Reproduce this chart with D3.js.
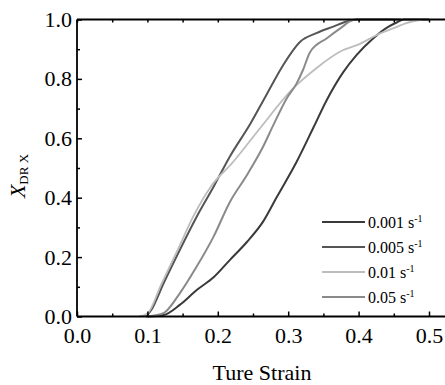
<!DOCTYPE html>
<html>
<head>
<meta charset="utf-8">
<script src="https://cdn.jsdelivr.net/npm/d3@7"></script>
<style>
  body { margin: 0; background: #fff; }
</style>
</head>
<body>
<div id="graph"></div>
<script>
// series: [strain, X_DRX]
const rate001 = [[0.1,0],[0.123,0.005],[0.146,0.039],[0.17,0.089],[0.194,0.132],[0.217,0.19],[0.241,0.25],[0.265,0.322],[0.284,0.403],[0.312,0.521],[0.336,0.637],[0.355,0.73],[0.378,0.822],[0.397,0.88],[0.421,0.937],[0.442,0.975],[0.454,0.99],[0.464,1.0],[0.5,1.0]];
const rate005 = [[0.098,0],[0.105,0.02],[0.123,0.112],[0.146,0.224],[0.17,0.336],[0.194,0.437],[0.217,0.538],[0.246,0.648],[0.269,0.746],[0.293,0.847],[0.317,0.925],[0.34,0.954],[0.364,0.976],[0.383,0.993],[0.397,1.0],[0.46,1.0]];
const rate01 = [[0.088,0],[0.1,0.01],[0.12,0.11],[0.143,0.224],[0.165,0.336],[0.19,0.437],[0.222,0.521],[0.26,0.634],[0.307,0.768],[0.34,0.836],[0.374,0.892],[0.402,0.918],[0.426,0.948],[0.449,0.97],[0.468,0.988],[0.49,1.0]];
const rate05 = [[0.098,0],[0.11,0.003],[0.123,0.011],[0.146,0.078],[0.17,0.168],[0.194,0.269],[0.217,0.385],[0.241,0.475],[0.265,0.575],[0.279,0.645],[0.298,0.735],[0.312,0.785],[0.321,0.83],[0.331,0.89],[0.355,0.937],[0.374,0.97],[0.392,0.998],[0.402,1.0],[0.45,1.0]];

const labels = ['0.001','0.005','0.01','0.05'];
const xTicks = [0,0.1,0.2,0.3,0.4,0.5];
const yTicks = [0,0.2,0.4,0.6,0.8,1.0];

const series = [
  {name: labels[0], data: rate001, color: '#3a3a3a', width: 2},
  {name: labels[1], data: rate005, color: '#555555', width: 2},
  {name: labels[2], data: rate01, color: '#bdbdbd', width: 1.8},
  {name: labels[3], data: rate05, color: '#8a8a8a', width: 2}
];

const w = 445, h = 385;
const padLeft = 77, padTop = 19.5, padBottom = 316.5;
const serifFont = 'Liberation Serif';
const xScale = d3.scaleLinear().domain([0,0.5]).range([padLeft,429]);
const yScale = d3.scaleLinear().domain([0,1]).range([padBottom,padTop]);

const svg = d3.select('#graph').append('svg')
  .attr('width',w).attr('height',h);

const line = d3.line().x(d=>xScale(d[0])).y(d=>yScale(d[1])).curve(d3.curveMonotoneX);

svg.selectAll('.curve')
  .data(series)
  .enter()
  .append('path')
  .attr('class','curve')
  .attr('d',d=>line(d.data))
  .attr('fill','none')
  .attr('stroke',d=>d.color)
  .attr('stroke-width',d=>d.width)
  .attr('stroke-linejoin','round');

// axes, ticks inward
const xMinor = d3.range(0.05,0.55,0.1);
const xAxis = d3.axisBottom(xScale).tickValues(xTicks).tickFormat(d3.format('.1f')).tickSizeInner(-5).tickSizeOuter(0).tickPadding(11);
const xAxisMinor = d3.axisBottom(xScale).tickValues(xMinor).tickFormat('').tickSizeInner(-3).tickSizeOuter(0);
const yAxis = d3.axisLeft(yScale).tickValues(yTicks).tickFormat(d3.format('.1f')).tickSizeInner(-5).tickSizeOuter(0).tickPadding(5);
const yAxisMinor = d3.axisLeft(yScale).tickValues(d3.range(0.1,1,0.2)).tickFormat('').tickSizeInner(-3).tickSizeOuter(0);
const topAxis = d3.axisTop(xScale).tickValues(d3.range(0,0.55,0.05)).tickFormat('').tickSizeInner(-3).tickSizeOuter(0);

function styleAxis(g){
  g.attr('font-family',serifFont).attr('font-size',22);
  g.select('.domain').remove();
  g.selectAll('line').attr('stroke','#000').attr('stroke-width',1.5);
  g.selectAll('text')
    .attr('fill','#000')
    .attr('font-family',serifFont)
    .attr('font-size',22);
}

svg.append('g').attr('transform',`translate(0,${padBottom})`).call(xAxis).call(styleAxis);
svg.append('g').attr('transform',`translate(0,${padBottom})`).call(xAxisMinor).call(styleAxis);
svg.append('g').attr('transform',`translate(${padLeft},0)`).call(yAxis).call(styleAxis);
svg.append('g').attr('transform',`translate(${padLeft},0)`).call(yAxisMinor).call(styleAxis);
svg.append('g').attr('transform',`translate(0,${padTop})`).call(topAxis).call(styleAxis);

// frame lines
svg.append('line').attr('x1',padLeft).attr('x2',w).attr('y1',padBottom).attr('y2',padBottom).attr('stroke','#000').attr('stroke-width',1.8);
svg.append('line').attr('x1',padLeft).attr('x2',w).attr('y1',padTop).attr('y2',padTop).attr('stroke','#000').attr('stroke-width',1.8);
svg.append('line').attr('x1',padLeft).attr('x2',padLeft).attr('y1',padTop).attr('y2',padBottom).attr('stroke','#000').attr('stroke-width',1.8);

// axis titles
svg.append('text')
  .attr('x',262).attr('y',380)
  .attr('text-anchor','middle')
  .attr('font-family',serifFont)
  .attr('font-size',22)
  .text('Ture Strain');

const yTitle = svg.append('text')
  .attr('transform',`translate(25,176) rotate(-90)`)
  .attr('text-anchor','middle')
  .attr('font-family',serifFont)
  .attr('font-size',22);
yTitle.append('tspan').attr('font-style','italic').attr('font-family',serifFont).text('X');
yTitle.append('tspan').attr('dy',3).attr('font-family',serifFont).attr('font-size',13).text('DR X');

// legend
const legend = svg.selectAll('.legend-label')
  .data(series)
  .enter()
  .append('g')
  .attr('class','legend-label')
  .attr('transform',(d,i)=>`translate(322,${222 + i*25})`);

legend.append('line')
  .attr('x1',0).attr('x2',43).attr('y1',0).attr('y2',0)
  .attr('stroke',d=>d.color)
  .attr('stroke-width',d=>d.width);

const lt = legend.append('text')
  .attr('x',46).attr('y',6)
  .attr('font-family',serifFont)
  .attr('font-size',16);
lt.append('tspan').attr('font-family',serifFont).text(d=>d.name + ' s');
lt.append('tspan').attr('dy',-6).attr('font-family',serifFont).attr('font-size',10).text('-1');
</script>
</body>
</html>
